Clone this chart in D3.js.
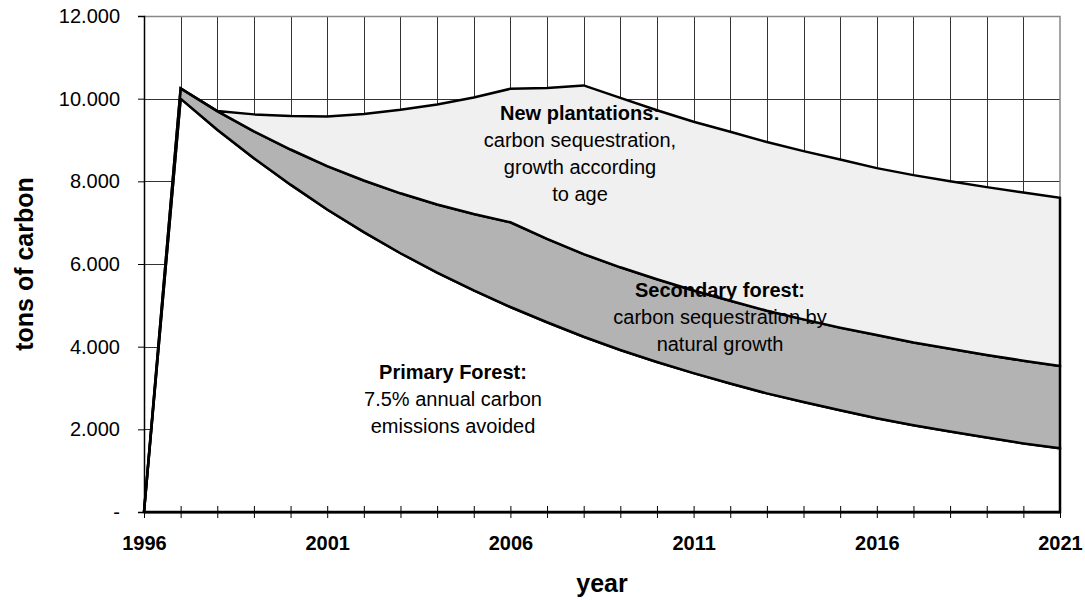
<!DOCTYPE html>
<html>
<head>
<meta charset="utf-8">
<script src="https://cdn.jsdelivr.net/npm/d3@7"></script>
<style>
  body { margin: 0; background: #fff; }
  text { font-family: "Liberation Sans", Arial, sans-serif; }
</style>
</head>
<body>
<div id="my_dataviz"></div>
<script>
// values, tons of carbon per year
var years = [1996, 1997, 1998, 1999, 2000, 2001, 2002, 2003, 2004, 2005, 2006, 2007, 2008,
             2009, 2010, 2011, 2012, 2013, 2014, 2015, 2016, 2017, 2018, 2019, 2020, 2021];
var primaryForest = [0, 10000, 9250, 8560, 7920, 7320, 6770, 6260, 5790, 5360, 4960, 4590, 4240,
                     3920, 3630, 3360, 3110, 2870, 2660, 2460, 2270, 2100, 1950, 1800, 1660, 1540];
var secondaryForest = [0, 250, 450, 650, 850, 1050, 1250, 1450, 1650, 1850, 2050, 2020, 2000,
                       2000, 2000, 2000, 2000, 2000, 2000, 2000, 2010, 2000, 2000, 2000, 2000, 1990];
var newPlantations = [0, 0, 0, 410, 810, 1200, 1610, 2020, 2420, 2820, 3230, 3650, 4080,
                      4100, 4090, 4080, 4090, 4080, 4070, 4070, 4040, 4050, 4050, 4060, 4070, 4070];
var seriesKeys = ["primary", "secondary", "plantations"];
var seriesFill = ["#ffffff", "#b3b3b3", "#f0f0f0"];
var yTicks = [0, 2000, 4000, 6000, 8000, 10000, 12000];
var xLabelYears = [1996, 2001, 2006, 2011, 2016, 2021];

var labels = [
  { x: 580, y: 120, lines: ["New plantations:", "carbon sequestration,", "growth according", "to age"] },
  { x: 720, y: 297, lines: ["Secondary forest:", "carbon sequestration by", "natural growth"] },
  { x: 453, y: 379, lines: ["Primary Forest:", "7.5% annual carbon", "emissions avoided"] }
];

var margin = { top: 16, right: 25, bottom: 88, left: 144 },
    width = 1085 - margin.left - margin.right,
    height = 600 - margin.top - margin.bottom;

var svg = d3.select("#my_dataviz")
  .append("svg")
  .attr("width", 1085)
  .attr("height", 600)
  .append("g")
  .attr("transform", `translate(${margin.left},${margin.top})`);

var table = years.map(function(y, i) {
  return { year: y, primary: primaryForest[i], secondary: secondaryForest[i], plantations: newPlantations[i] };
});

var x = d3.scaleLinear()
  .domain([1996, 2021])
  .range([0, width]);

var y = d3.scaleLinear()
  .domain([0, 12000])
  .range([height, 0]);

// grid
svg.append("g")
  .selectAll("line")
  .data(years.slice(1, -1))
  .join("line")
  .attr("x1", function(d) { return Math.round(x(d)) + 0.5; })
  .attr("x2", function(d) { return Math.round(x(d)) + 0.5; })
  .attr("y1", 0)
  .attr("y2", height)
  .attr("stroke", "#333")
  .attr("stroke-width", 1);

svg.append("g")
  .selectAll("line")
  .data(yTicks.slice(1, -1))
  .join("line")
  .attr("x1", 0)
  .attr("x2", width)
  .attr("y1", function(d) { return Math.round(y(d)) + 0.5; })
  .attr("y2", function(d) { return Math.round(y(d)) + 0.5; })
  .attr("stroke", "#333")
  .attr("stroke-width", 1);

// plot border (top, right)
svg.append("path")
  .attr("d", `M0,0.5H${width}V${height}`)
  .attr("fill", "none")
  .attr("stroke", "#888")
  .attr("stroke-width", 1.5);

// stacked areas
var stacked = d3.stack().keys(seriesKeys)(table);

var area = d3.area()
  .x(function(d) { return x(d.data.year); })
  .y0(function(d) { return y(d[0]); })
  .y1(function(d) { return y(d[1]); });

svg.append("g")
  .selectAll("path")
  .data(stacked)
  .join("path")
  .attr("d", area)
  .attr("fill", function(d, i) { return seriesFill[i]; })
  .attr("stroke", "#000")
  .attr("stroke-width", 2.5)
  .attr("stroke-linejoin", "miter");

// axes
var yAxis = svg.append("g")
  .call(d3.axisLeft(y)
    .tickValues(yTicks)
    .tickSize(6)
    .tickPadding(18)
    .tickFormat(function(d) { return d === 0 ? "-" : d3.format(",")(d).replace(",", "."); }));
yAxis.select(".domain").attr("stroke", "#000").attr("stroke-width", 1.5);
yAxis.selectAll(".tick line").attr("stroke", "#000");
yAxis.selectAll("text")
  .attr("font-size", 20)
  .attr("font-family", "'Liberation Sans', Arial, sans-serif")
  .attr("fill", "#000");

var xAxis = svg.append("g")
  .attr("transform", `translate(0, ${height})`)
  .call(d3.axisBottom(x)
    .tickValues(years)
    .tickSize(6)
    .tickSizeOuter(0)
    .tickFormat(function(d) { return xLabelYears.indexOf(d) >= 0 ? d : ""; }));
xAxis.select(".domain").attr("stroke", "#000").attr("stroke-width", 2);
xAxis.selectAll(".tick line").attr("stroke", "#000").attr("y1", -6);
xAxis.selectAll("text")
  .attr("y", 24)
  .attr("font-size", 20)
  .attr("font-weight", "bold")
  .attr("font-family", "'Liberation Sans', Arial, sans-serif")
  .attr("fill", "#000");

// axis titles
svg.append("text")
  .attr("x", width / 2)
  .attr("y", 592 - margin.top)
  .attr("text-anchor", "middle")
  .attr("font-size", 25)
  .attr("font-weight", "bold")
  .text("year");

svg.append("text")
  .attr("transform", `translate(${33 - margin.left}, ${264 - margin.top}) rotate(-90)`)
  .attr("text-anchor", "middle")
  .attr("font-size", 25)
  .attr("font-weight", "bold")
  .text("tons of carbon");

// annotations
labels.forEach(function(l) {
  var t = svg.append("text")
    .attr("text-anchor", "middle")
    .attr("font-size", 20);
  l.lines.forEach(function(s, i) {
    t.append("tspan")
      .attr("x", l.x - margin.left)
      .attr("y", l.y - margin.top + i * 27)
      .attr("font-weight", i === 0 ? "bold" : "normal")
      .text(s);
  });
});
</script>
</body>
</html>
